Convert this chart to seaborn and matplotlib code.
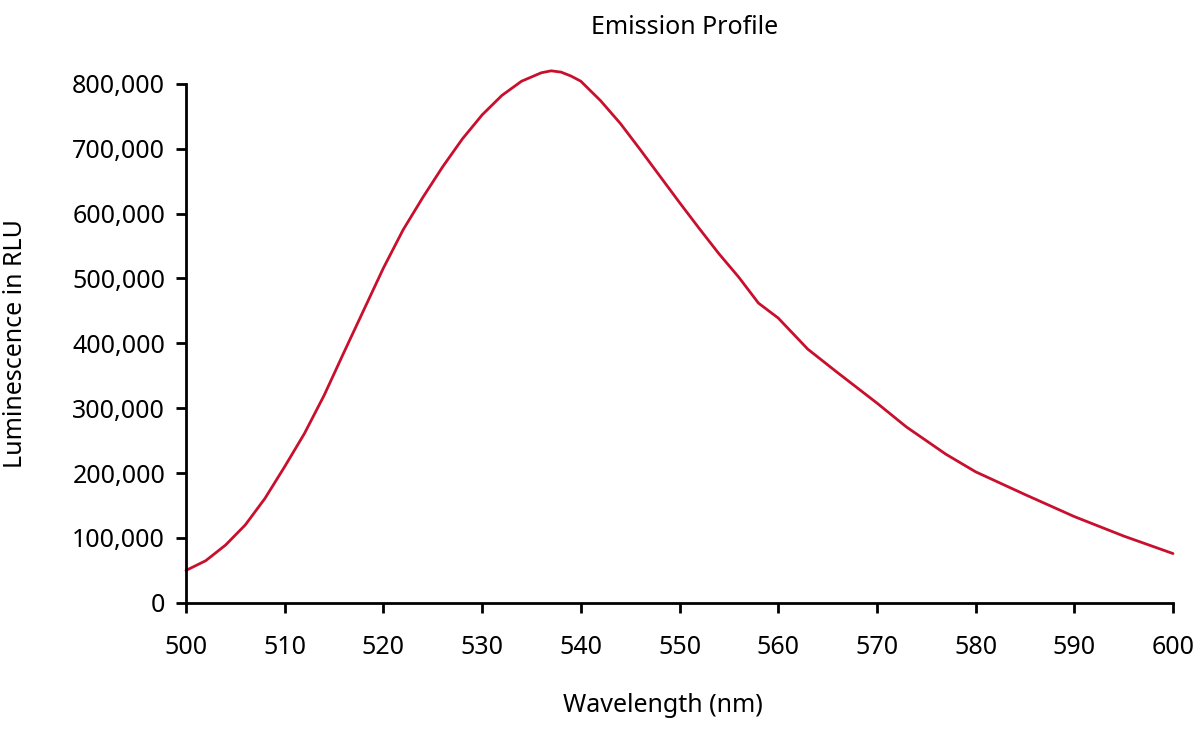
import numpy as np
import pandas as pd
import matplotlib
matplotlib.use("Agg")
import matplotlib.pyplot as plt
import matplotlib.ticker as mticker
import seaborn as sns

# values (nm, RLU)
wavelength = [500, 502, 504, 506, 508, 510, 512, 514, 516, 518, 520, 522, 524,
              526, 528, 530, 532, 534, 536, 537, 538, 539, 540, 542, 544, 546,
              548, 550, 552, 554, 556, 558, 560, 563, 566, 570, 573, 577, 580,
              585, 590, 595, 600]
luminescence = [50000, 65000, 89000, 120000, 161000, 210000, 261000, 320000,
                386000, 451000, 516000, 575000, 625000, 672000, 715000, 752000,
                782000, 804000, 817000, 820000, 818000, 812000, 804000, 774000,
                739000, 699000, 658000, 617000, 577000, 538000, 502000, 462000,
                439000, 391000, 355000, 308000, 271000, 229000, 202000, 167000,
                133000, 103000, 76000]
x_ticks = [500, 510, 520, 530, 540, 550, 560, 570, 580, 590, 600]
y_ticks = [0, 100000, 200000, 300000, 400000, 500000, 600000, 700000, 800000]

df = pd.DataFrame({"Wavelength": wavelength, "Luminescence": luminescence})

sns.set_style("ticks")
plt.rcParams["font.family"] = ["Noto Sans", "DejaVu Sans"]
plt.rcParams["text.color"] = "black"
plt.rcParams["axes.labelcolor"] = "black"

fig = plt.figure(figsize=(12, 7.37), dpi=100)
ax = fig.add_axes([0.155, 0.182, 0.8225, 0.7043])

sns.lineplot(data=df, x="Wavelength", y="Luminescence", ax=ax,
             color="#C8102E", linewidth=2, clip_on=False)

ax.set_xlim(500, 600)
ax.set_ylim(0, 800000)
ax.set_xticks(x_ticks)
ax.set_yticks(y_ticks)
ax.yaxis.set_major_formatter(mticker.FuncFormatter(lambda v, p: f"{int(v):,}"))

for s in ["top", "right"]:
    ax.spines[s].set_visible(False)
for s in ["left", "bottom"]:
    ax.spines[s].set_linewidth(2)
    ax.spines[s].set_color("black")

ax.tick_params(axis="both", direction="out", length=7, width=2,
               labelsize=18, colors="black")
ax.tick_params(axis="x", pad=16)
ax.tick_params(axis="y", pad=8)

ax.set_title("Emission Profile", fontsize=18, pad=36, x=0.5055)
ax.set_xlabel("Wavelength (nm)", fontsize=18)
ax.set_ylabel("Luminescence in RLU", fontsize=18)
ax.xaxis.set_label_coords(0.483, -0.173)
ax.yaxis.set_label_coords(-0.16, 0.5)

fig.savefig("out.png", dpi=100)
